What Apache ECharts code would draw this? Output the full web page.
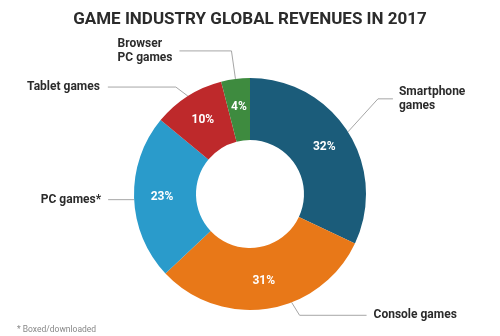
<!DOCTYPE html>
<html>
<head>
<meta charset="utf-8">
<script src="https://cdn.jsdelivr.net/npm/echarts@6/dist/echarts.min.js"></script>
<style>
  html, body { margin: 0; padding: 0; background: #ffffff; }
  #chart { width: 500px; height: 336px; }
</style>
</head>
<body>
<div id="chart"></div>
<script>
// Revenue share by segment, 2017 (percent)
const categories = ['Smartphone\ngames', 'Console games', 'PC games*', 'Tablet games', 'Browser\nPC games'];
const shares = [32, 31, 23, 10, 4];
const colors = ['#1b5c7a', '#e87818', '#2a9bcb', '#be292b', '#3e8b3f'];

const titleText = 'GAME INDUSTRY GLOBAL REVENUES IN 2017';
const footnote = '* Boxed/downloaded';

// Ring geometry
const CX = 250, CY = 194, R_IN = 54, R_OUT = 116;
const START_ANGLE = 90;

// Leader line shapes per segment: anchor angle shift (deg), elbow offset, horizontal run, text gap
const leaders = [
  { shift: 0,  dx: 30,  dy: -33, run: 15,  gap: 6 },
  { shift: 12, dx: 8,   dy: 13,  run: 67,  gap: 7 },
  { shift: 1,  dx: 0,   dy: 0,   run: -26, gap: 7 },
  { shift: 0,  dx: -12, dy: -9,  run: -68, gap: 8 },
  { shift: 0,  dx: -4,  dy: -28, run: -52, gap: 7 }
];

// Mid angle of each slice (clockwise from the top)
const total = shares.reduce((a, b) => a + b, 0);
const midAngles = [];
let acc = 0;
shares.forEach(v => {
  midAngles.push(START_ANGLE - (acc + v / 2) / total * 360);
  acc += v;
});

function leaderLayout(params) {
  const i = params.dataIndex;
  const L = leaders[i];
  const a = (midAngles[i] + L.shift) * Math.PI / 180;
  const p0 = [CX + R_OUT * Math.cos(a), CY - R_OUT * Math.sin(a)];
  const p1 = [p0[0] + L.dx, p0[1] + L.dy];
  const p2 = [p1[0] + L.run, p1[1]];
  const right = L.run >= 0;
  // text block stays left-aligned on both sides
  const x = right ? p2[0] + L.gap : p2[0] - L.gap - params.labelRect.width;
  return {
    x: x,
    y: p2[1],
    align: 'left',
    verticalAlign: 'middle',
    labelLinePoints: [p0, p1, p2]
  };
}

const sliceData = categories.map((name, i) => ({
  name: name,
  value: shares[i],
  itemStyle: { color: colors[i] }
}));

const chart = echarts.init(document.getElementById('chart'), null, { renderer: 'canvas' });
chart.setOption({
  animation: false,
  backgroundColor: '#ffffff',
  title: [
    {
      text: titleText,
      left: 'center',
      top: 6,
      textStyle: { fontFamily: 'Roboto', fontWeight: 'bold', fontSize: 17, color: '#2b2b2b' }
    },
    {
      text: footnote,
      left: 12,
      top: 320,
      textStyle: { fontFamily: 'Roboto', fontWeight: 'normal', fontSize: 8.5, color: '#888888' }
    }
  ],
  series: [
    {
      type: 'pie',
      center: [CX, CY],
      radius: [R_IN, R_OUT],
      startAngle: START_ANGLE,
      clockwise: true,
      silent: true,
      itemStyle: { borderWidth: 0 },
      label: {
        show: true,
        position: 'inside',
        formatter: p => p.value + '%',
        color: '#ffffff',
        fontFamily: 'Roboto',
        fontWeight: 'bold',
        fontSize: 12
      },
      labelLine: { show: false },
      data: sliceData
    },
    {
      type: 'pie',
      center: [CX, CY],
      radius: [R_IN, R_OUT],
      startAngle: START_ANGLE,
      clockwise: true,
      silent: true,
      itemStyle: { color: 'rgba(0,0,0,0)', borderWidth: 0 },
      label: {
        show: true,
        position: 'outside',
        formatter: p => p.name,
        color: '#2b2b2b',
        fontFamily: 'Roboto',
        fontWeight: 'bold',
        fontSize: 12,
        lineHeight: 14
      },
      labelLine: {
        show: true,
        length: 10,
        length2: 10,
        lineStyle: { color: '#a6a6a6', width: 1 }
      },
      labelLayout: leaderLayout,
      data: categories.map((name, i) => ({ name: name, value: shares[i] }))
    }
  ]
});
</script>
</body>
</html>
